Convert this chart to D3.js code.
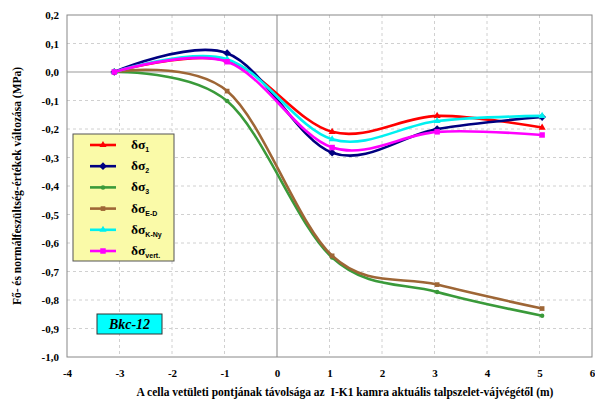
<!DOCTYPE html>
<html>
<head>
<meta charset="utf-8">
<script src="https://cdn.jsdelivr.net/npm/d3@7"></script>
<style>
  body { margin: 0; background: #fff; }
  text { font-family: "Liberation Serif", "Times New Roman", serif; font-weight: bold; }
</style>
</head>
<body>
<div id="chart"></div>
<script>
// distances (m) of the measuring points
const distances = [-3.1, -0.95, 1.05, 3.05, 5.05];

// stress changes (MPa)
const dSigma1 = [0, 0.04, -0.21, -0.154, -0.195];
const dSigma2 = [0, 0.066, -0.283, -0.2, -0.158];
const dSigma3 = [0, -0.102, -0.651, -0.772, -0.855];
const dSigmaED = [0, -0.067, -0.645, -0.746, -0.83];
const dSigmaKNy = [0, 0.045, -0.236, -0.172, -0.154];
const dSigmaVert = [0, 0.036, -0.265, -0.21, -0.221];

const seriesNames = ["1", "2", "3", "E-D", "K-Ny", "vert."];
const xTicks = [-4, -3, -2, -1, 0, 1, 2, 3, 4, 5, 6];
const yTicks = [0.2, 0.1, 0, -0.1, -0.2, -0.3, -0.4, -0.5, -0.6, -0.7, -0.8, -0.9, -1.0];

const series = [
  { name: seriesNames[0], values: dSigma1, color: "#ff0000", marker: d3.symbolTriangle, size: 22, rot: 0 },
  { name: seriesNames[1], values: dSigma2, color: "#000080", marker: d3.symbolSquare, size: 30, rot: 45 },
  { name: seriesNames[2], values: dSigma3, color: "#3a9a3a", marker: d3.symbolCircle, size: 16, rot: 0 },
  { name: seriesNames[3], values: dSigmaED, color: "#9e6636", marker: d3.symbolSquare, size: 22, rot: 0 },
  { name: seriesNames[4], values: dSigmaKNy, color: "#00f0f0", marker: d3.symbolTriangle, size: 22, rot: 0 },
  { name: seriesNames[5], values: dSigmaVert, color: "#ff00ff", marker: d3.symbolSquare, size: 30, rot: 0 }
];

const W = 595, H = 402;
const plot = { left: 67, right: 592, top: 15, bottom: 357 };

const svg = d3.select("#chart").append("svg")
  .attr("width", W).attr("height", H);

const x = d3.scaleLinear().domain([-4, 6]).range([plot.left, plot.right]);
const y = d3.scaleLinear().domain([-1, 0.2]).range([plot.bottom, plot.top]);

// plot area
svg.append("rect")
  .attr("x", plot.left).attr("y", plot.top)
  .attr("width", plot.right - plot.left).attr("height", plot.bottom - plot.top)
  .attr("fill", "#fff");

// grid
svg.append("g").selectAll("line")
  .data(yTicks.filter(v => Math.abs(v) > 1e-9 && v < 0.2 - 1e-9 && v > -1 + 1e-9))
  .join("line")
  .attr("x1", plot.left).attr("x2", plot.right)
  .attr("y1", d => y(d)).attr("y2", d => y(d))
  .attr("stroke", "#d0d0d0").attr("stroke-dasharray", "3,3");
svg.append("g").selectAll("line")
  .data(xTicks.filter(v => v !== 0 && v !== -4 && v !== 6))
  .join("line")
  .attr("y1", plot.top).attr("y2", plot.bottom)
  .attr("x1", d => x(d)).attr("x2", d => x(d))
  .attr("stroke", "#d0d0d0").attr("stroke-dasharray", "3,3");

// zero lines
svg.append("line")
  .attr("x1", plot.left).attr("x2", plot.right)
  .attr("y1", y(0)).attr("y2", y(0))
  .attr("stroke", "#999").attr("stroke-width", 1.2);
svg.append("line")
  .attr("x1", x(0)).attr("x2", x(0))
  .attr("y1", plot.top).attr("y2", plot.bottom)
  .attr("stroke", "#999").attr("stroke-width", 1.2);

// border
svg.append("rect")
  .attr("x", plot.left).attr("y", plot.top)
  .attr("width", plot.right - plot.left).attr("height", plot.bottom - plot.top)
  .attr("fill", "none").attr("stroke", "#888").attr("stroke-width", 1);

// axes (labels only, Excel style)
const fmt = v => d3.format(".1f")(v).replace(".", ",").replace("−", "-");
const yAxis = svg.append("g")
  .attr("transform", `translate(${plot.left},0)`)
  .call(d3.axisLeft(y).tickValues(yTicks).tickFormat(fmt).tickSize(0).tickPadding(8));
yAxis.select(".domain").remove();
yAxis.selectAll("text")
  .style("font-family", "Liberation Serif, serif").style("font-weight", "bold")
  .style("font-size", "11px").attr("fill", "#000");

const xAxis = svg.append("g")
  .attr("transform", `translate(0,${plot.bottom})`)
  .call(d3.axisBottom(x).tickValues(xTicks).tickFormat(d => String(d).replace("−", "-")).tickSize(0).tickPadding(12));
xAxis.select(".domain").remove();
xAxis.selectAll("text")
  .style("font-family", "Liberation Serif, serif").style("font-weight", "bold")
  .style("font-size", "11px").attr("fill", "#000");

// axis titles
svg.append("text")
  .attr("x", 345).attr("y", 396)
  .attr("text-anchor", "middle").attr("font-size", 11.5)
  .style("white-space", "pre")
  .text("A cella vetületi pontjának távolsága az  I-K1 kamra aktuális talpszelet-vájvégétől (m)");
svg.append("text")
  .attr("transform", `translate(21,${(plot.top + plot.bottom) / 2}) rotate(-90)`)
  .attr("text-anchor", "middle").attr("font-size", 11.5)
  .text("Fő- és normálfeszültség-értékek változása (MPa)");

// lines
const line = d3.line()
  .x((d, i) => x(distances[i]))
  .y(d => y(d))
  .curve(d3.curveCardinal.tension(0));

series.forEach(s => {
  svg.append("path")
    .datum(s.values)
    .attr("d", line)
    .attr("fill", "none")
    .attr("stroke", s.color)
    .attr("stroke-width", 2.6);
  svg.append("g").selectAll("path")
    .data(s.values)
    .join("path")
    .attr("transform", (d, i) => `translate(${x(distances[i])},${y(d)}) rotate(${s.rot})`)
    .attr("d", d3.symbol().type(s.marker).size(s.size))
    .attr("fill", s.color);
});

// legend
const lg = svg.append("g").attr("transform", "translate(73,134)");
lg.append("rect")
  .attr("width", 101).attr("height", 127)
  .attr("fill", "#fafaa8").attr("stroke", "#555").attr("stroke-width", 1);
series.forEach((s, i) => {
  const yy = 11 + i * 21.2;
  lg.append("line")
    .attr("x1", 17).attr("x2", 43).attr("y1", yy).attr("y2", yy)
    .attr("stroke", s.color).attr("stroke-width", 2.6);
  lg.append("path")
    .attr("transform", `translate(30,${yy}) rotate(${s.rot})`)
    .attr("d", d3.symbol().type(s.marker).size(s.size))
    .attr("fill", s.color);
  const t = lg.append("text")
    .attr("x", 58).attr("y", yy + 4)
    .attr("font-size", 13.5);
  t.append("tspan").text("δσ");
  t.append("tspan").attr("font-size", 7).attr("dy", 3)
    .style("font-family", "Liberation Sans, Arial, sans-serif").text(s.name);
});

// sample label
const bk = svg.append("g").attr("transform", "translate(97,314)");
bk.append("rect")
  .attr("width", 65).attr("height", 20)
  .attr("fill", "#00ffff").attr("stroke", "#333").attr("stroke-width", 1);
bk.append("text")
  .attr("x", 32.5).attr("y", 15)
  .attr("text-anchor", "middle").attr("font-size", 14)
  .attr("font-style", "italic")
  .text("Bkc-12");
</script>
</body>
</html>
